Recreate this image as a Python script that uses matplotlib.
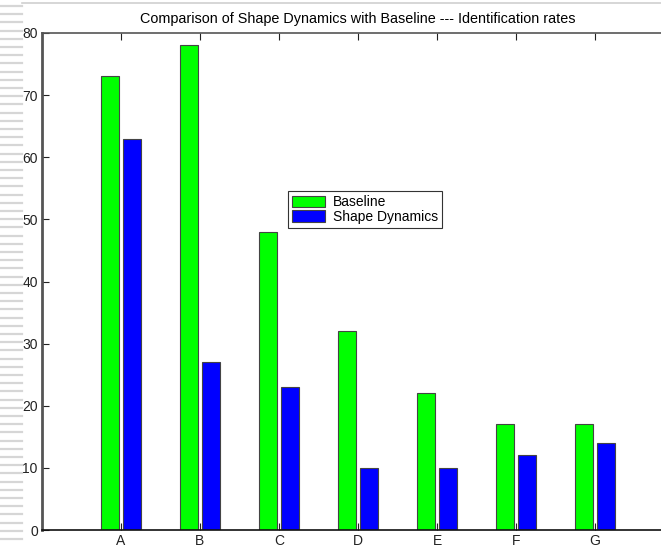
import numpy as np
import matplotlib.pyplot as plt
from matplotlib.lines import Line2D

plt.rcParams['font.family'] = ['Liberation Sans', 'DejaVu Sans']

categorias = ['A', 'B', 'C', 'D', 'E', 'F', 'G']
baseline = [73, 78, 48, 32, 22, 17, 17]
shape_dynamics = [63, 27, 23, 10, 10, 12, 14]
yticks = [0, 10, 20, 30, 40, 50, 60, 70, 80]

fig = plt.figure(figsize=(6.61, 5.47), dpi=100)
fig.patch.set_facecolor('white')

# franja de rayas a la izquierda y borde superior
for k in range(67):
    y = 1 - (6 + 8.2 * k) / 547
    if y < 0:
        break
    fig.add_artist(Line2D([0, 22 / 661], [y, y], transform=fig.transFigure,
                          color='#d6d6d6', lw=1.6))
fig.add_artist(Line2D([22 / 661, 1], [1 - 3 / 547, 1 - 3 / 547],
                      transform=fig.transFigure, color='#d0d0d0', lw=1.2))

ax = fig.add_axes([42 / 661, 17 / 547, 632 / 661, 497 / 547])

x = np.arange(1, len(categorias) + 1)
ancho = 0.23
off = 0.143
ax.bar(x - off, baseline, ancho, color='#00ff00', edgecolor='#444444',
       linewidth=0.8, label='Baseline')
ax.bar(x + off, shape_dynamics, ancho, color='#0000ff', edgecolor='#444444',
       linewidth=0.8, label='Shape Dynamics')

ax.set_xlim(0, 8)
ax.set_ylim(0, 80)
ax.set_xticks(x)
ax.set_xticklabels(categorias)
ax.set_yticks(yticks)
ax.tick_params(direction='in', length=5, width=0.8, labelsize=10,
               top=True, right=True, colors='#222222', pad=3)

for lado in ['left', 'top', 'right']:
    ax.spines[lado].set_color('#555555')
ax.spines['left'].set_linewidth(2)
ax.spines['top'].set_linewidth(1.2)
ax.spines['bottom'].set_color('#111111')
ax.spines['bottom'].set_linewidth(1.2)

ax.set_title('Comparison of Shape Dynamics with Baseline --- Identification rates',
             fontsize=10.4, pad=7)

leg = ax.legend(loc='upper left', bbox_to_anchor=(0.389, 0.682), fontsize=10,
                fancybox=False, framealpha=1, edgecolor='#333333',
                borderpad=0.3, handlelength=2.4, handleheight=0.9,
                handletextpad=0.55, labelspacing=0.05, borderaxespad=0)
leg.get_frame().set_linewidth(0.8)

fig.savefig('out.png', dpi=100, facecolor='white')
